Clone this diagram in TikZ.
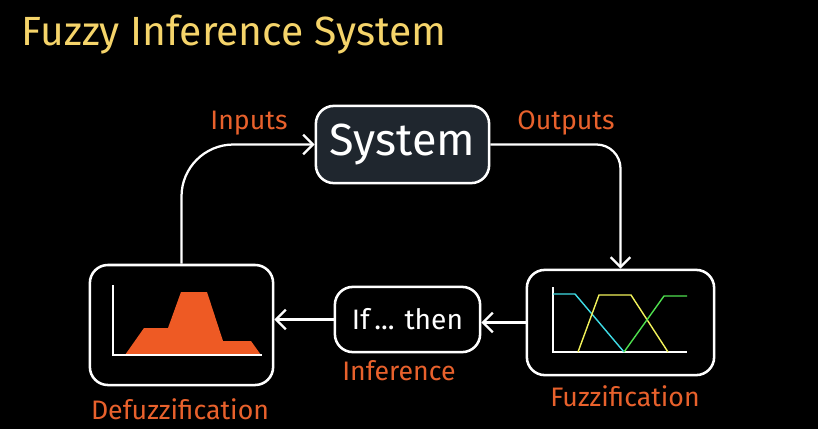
\documentclass[tikz,border=0pt]{standalone}
\usepackage{fontspec}
\setmainfont{Fira Sans}
\usetikzlibrary{arrows.meta}
\definecolor{titleyellow}{HTML}{F5D46A}
\definecolor{labelorange}{HTML}{E8612C}
\definecolor{fillorange}{HTML}{EE5A24}
\definecolor{sysfill}{HTML}{1F262E}
\definecolor{mfcyan}{HTML}{3FDCE6}
\definecolor{mfyellow}{HTML}{F2F25A}
\definecolor{mfgreen}{HTML}{4FE04F}
\tikzset{
  block/.style={draw=white,line width=1.8pt,rounded corners=0.45cm,fill=black},
  lbl/.style={text=labelorange,font=\fontsize{19}{21}\selectfont},
  arr/.style={draw=white,line width=1.6pt,-{Straight Barb[length=7pt,width=14pt,line width=1.6pt]}},
}
\begin{document}
\begin{tikzpicture}[x=0.025cm,y=-0.025cm]
\fill[black] (0,0) rectangle (818,429);
\node[anchor=west,text=titleyellow,font=\fontsize{29}{32}\selectfont] (title) at (17,35) {Fuzzy Inference System};
% boxes
\node[block,fill=sysfill,minimum width=4.33cm,minimum height=1.93cm,text=white,font=\fontsize{32}{36}\selectfont] (system) at (402.5,144.5) {System};
\node[block,minimum width=4.68cm,minimum height=2.63cm] (fuzz) at (620.5,322.5) {};
\node[block,minimum width=3.63cm,minimum height=1.63cm,text=white,font=\fontsize{20}{24}\selectfont] (ifthen) at (407.5,319.5) {If\,... then};
\node[block,minimum width=4.58cm,minimum height=3cm] (defuzz) at (181.5,325) {};
% labels
\node[lbl] (inputs) at (249,123) {Inputs};
\node[lbl] (outputs) at (566,123) {Outputs};
\node[lbl] (inference) at (399,371) {Inference};
\node[lbl] (fuzzlbl) at (625,396) {Fuzzification};
\node[lbl] (defuzzlbl) at (180,409) {Defuzzification};
% connectors
\draw[arr,rounded corners=1.3cm] (defuzz.north) |- (system.west);
\draw[arr,rounded corners=0.6cm] (system.east) -| (fuzz.north);
\draw[arr] (fuzz.west) -- (fuzz.west -| ifthen.east);
\draw[arr] (ifthen.west) -- (ifthen.west -| defuzz.east);
% membership functions
\draw[white,line width=1pt] (553,287) -- (553,352) -- (687,352);
\draw[mfcyan,line width=1pt] (553,294) -- (575,294) -- (624,352);
\draw[mfyellow,line width=1pt] (578,352) -- (599,295) -- (631,295) -- (668,352);
\draw[mfgreen,line width=1pt] (624,352) -- (664,296) -- (687,296);
% aggregated output
\fill[fillorange] (125,355) -- (144,328) -- (168,328) -- (181,292) -- (207,292) -- (223,341) -- (251,341) -- (261,355) -- cycle;
\draw[white,line width=1pt] (113,285) -- (113,355) -- (262,355);
\end{tikzpicture}
\end{document}
